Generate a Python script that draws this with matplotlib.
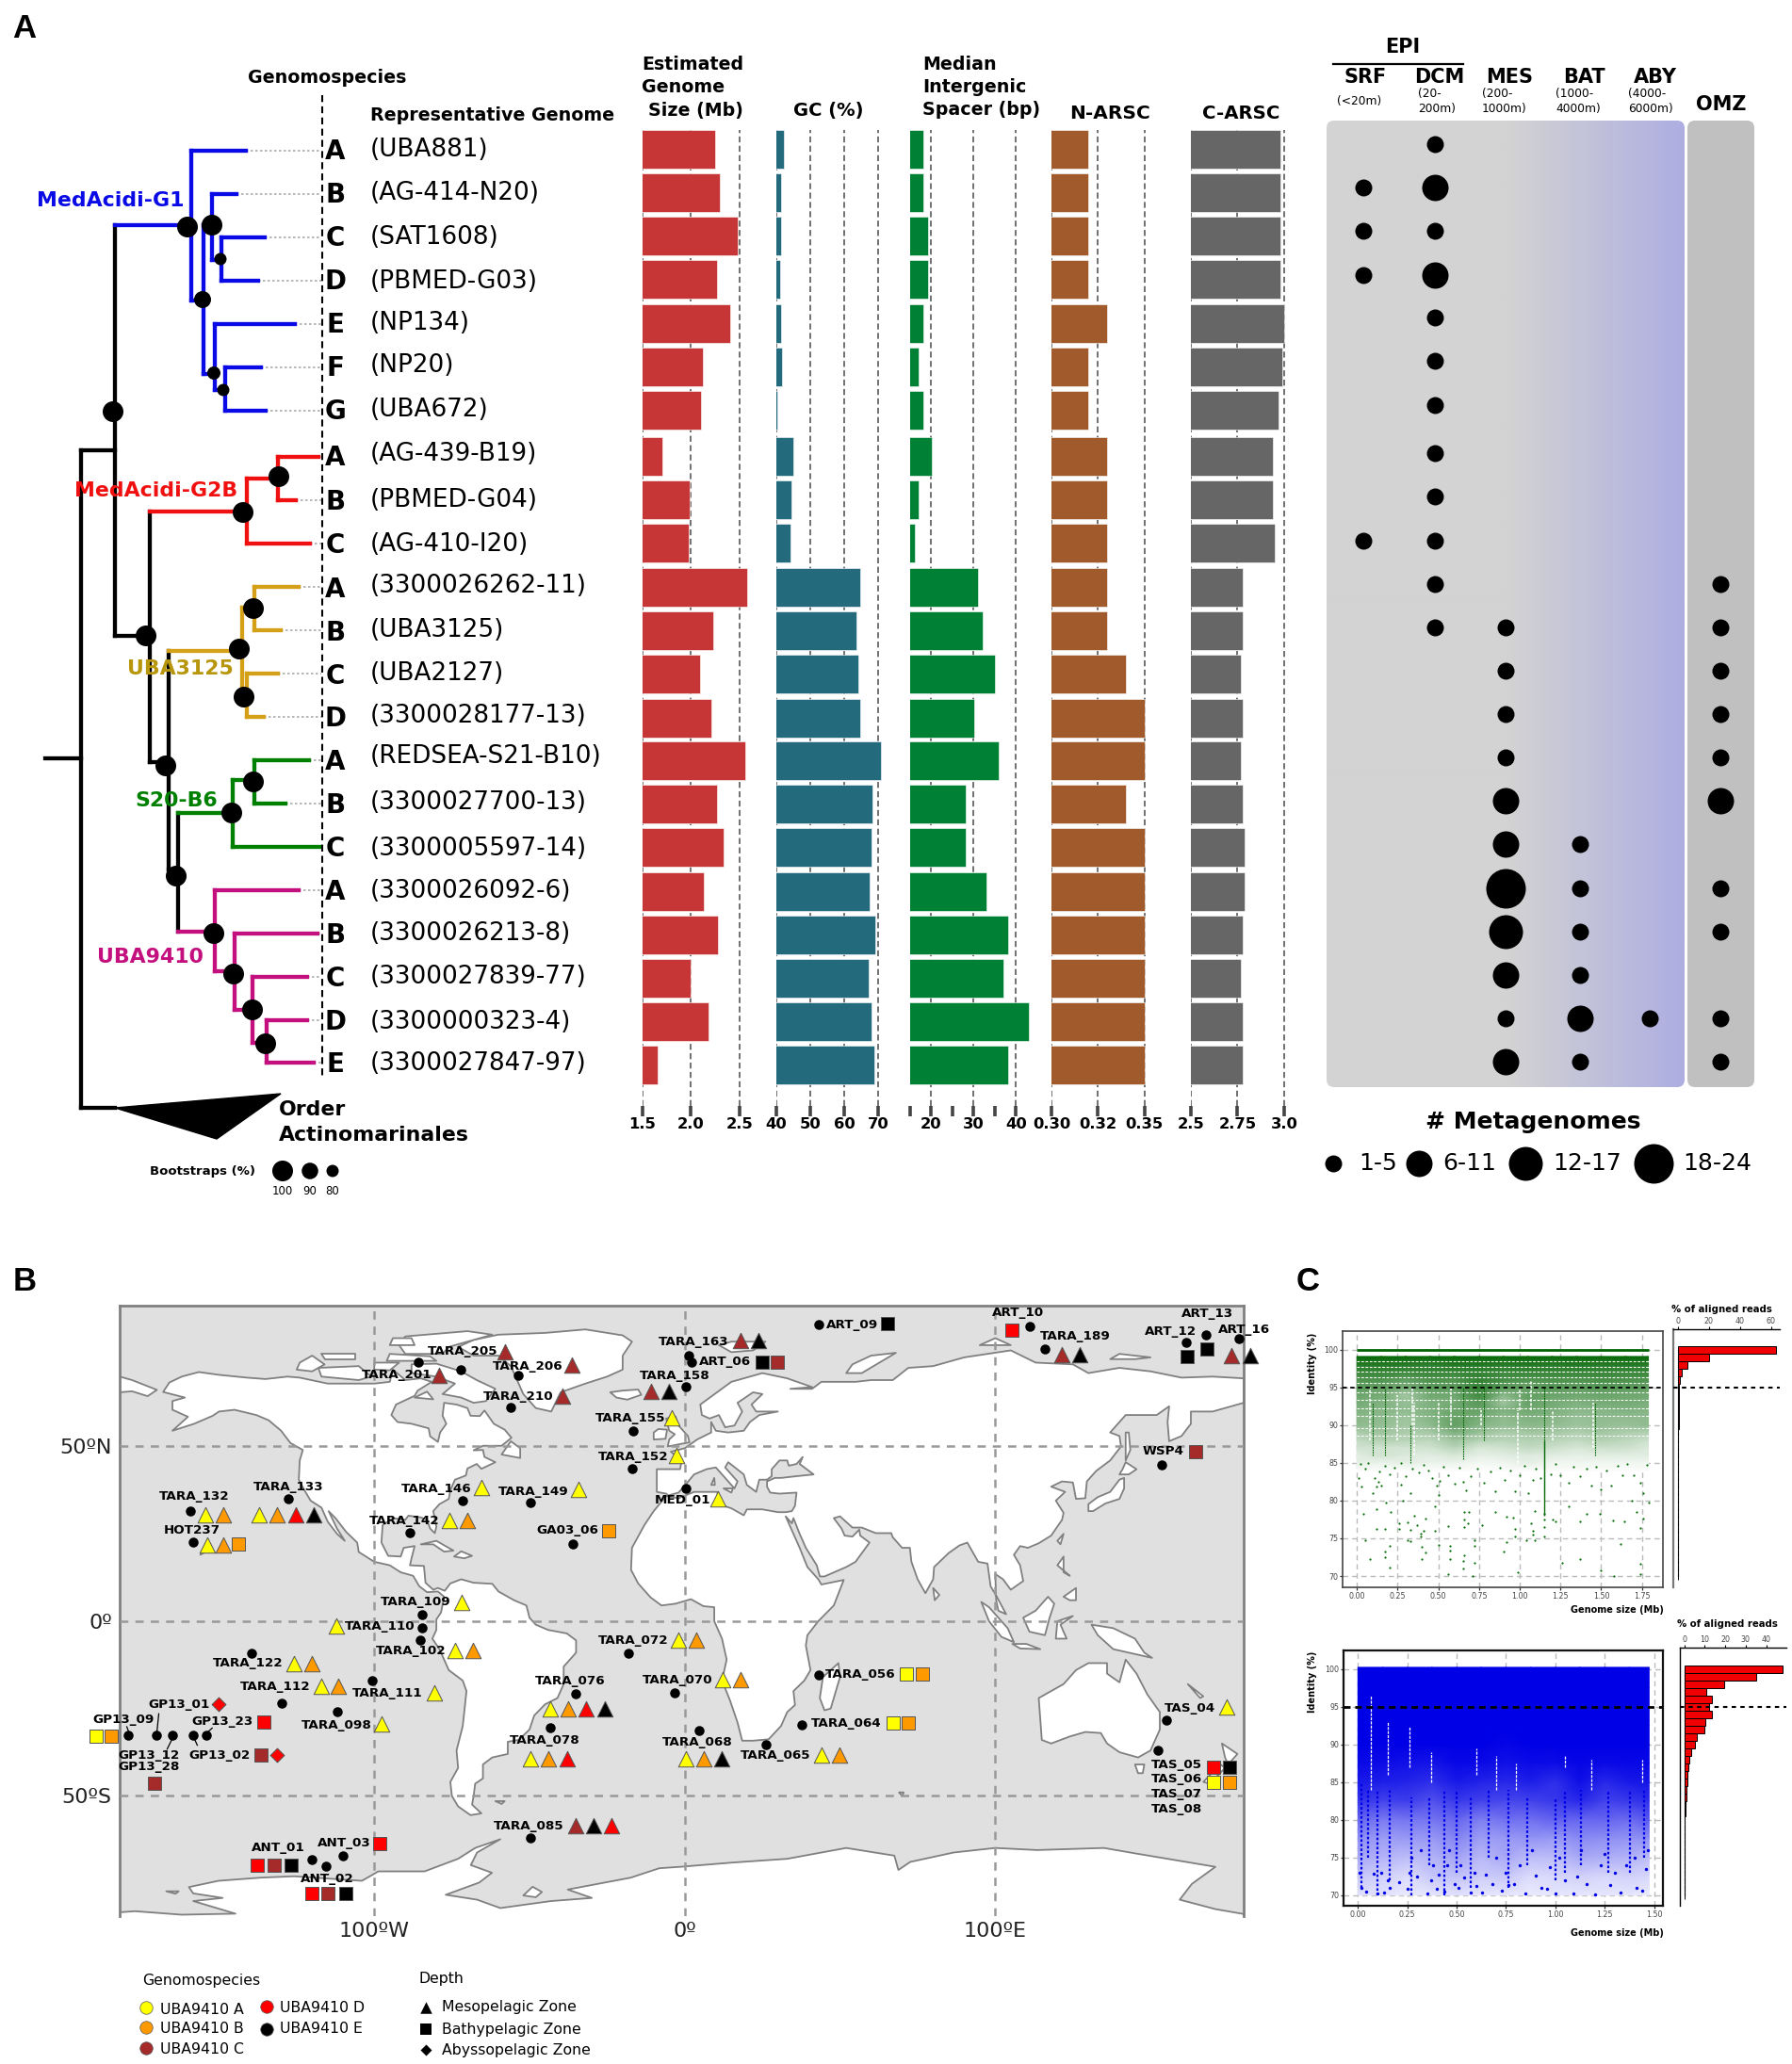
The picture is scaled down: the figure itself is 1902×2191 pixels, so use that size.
import numpy as np
import matplotlib
matplotlib.use("Agg")
import matplotlib.pyplot as plt
from matplotlib.colors import LinearSegmentedColormap
from matplotlib.patches import FancyBboxPatch, Polygon

W, H = 1902, 2191

# ---- panel A data ----
letters = list("ABCDEFG") + list("ABC") + list("ABCD") + list("ABC") + list("ABCDE")
genomes = ["(UBA881)", "(AG-414-N20)", "(SAT1608)", "(PBMED-G03)", "(NP134)", "(NP20)", "(UBA672)",
           "(AG-439-B19)", "(PBMED-G04)", "(AG-410-I20)", "(3300026262-11)", "(UBA3125)", "(UBA2127)",
           "(3300028177-13)", "(REDSEA-S21-B10)", "(3300027700-13)", "(3300005597-14)", "(3300026092-6)",
           "(3300026213-8)", "(3300027839-77)", "(3300000323-4)", "(3300027847-97)"]
letter_y = [161, 207, 253, 299, 345, 391, 437, 486, 533, 579, 626, 672, 718, 763, 809, 855, 901, 947, 993, 1039, 1085, 1130]
genome_y = [159, 205, 252, 299, 343, 388, 435, 482, 531, 578, 622, 669, 715, 760, 803, 852, 901, 946, 991, 1037, 1085, 1129]
bar_y = [158, 204.5, 250.5, 296.5, 343, 389, 435, 484.5, 530.5, 576.5, 623, 669, 715, 762, 807, 853, 899, 946, 992, 1038, 1084, 1130]
bubble_y = [153, 199, 245, 292, 337, 383, 430, 481, 527, 574, 620, 666, 712, 758, 804, 850, 896, 943, 989, 1035, 1081, 1127]

genome_size = [2.25, 2.29, 2.48, 2.26, 2.40, 2.12, 2.10, 1.71, 1.99, 1.98, 2.57, 2.23, 2.09, 2.21, 2.55, 2.26, 2.33, 2.13, 2.27, 2.00, 2.18, 1.66]
gc_content = [42.2, 41.5, 41.5, 41.3, 41.4, 41.7, 40.3, 45.0, 44.6, 44.3, 64.8, 63.5, 64.3, 64.6, 70.9, 68.3, 68.0, 67.4, 69.1, 67.3, 68.0, 68.8]
spacer = [18.2, 18.2, 19.2, 19.2, 18.2, 17.1, 18.2, 20.2, 17.1, 16.1, 31.1, 32.1, 35.1, 30.2, 36.0, 28.1, 28.1, 33.1, 38.2, 37.1, 43.1, 38.2]
n_arsc = [0.32, 0.32, 0.32, 0.32, 0.33, 0.32, 0.32, 0.33, 0.33, 0.33, 0.33, 0.33, 0.34, 0.35, 0.35, 0.34, 0.35, 0.35, 0.35, 0.35, 0.35, 0.35]
c_arsc = [2.98, 2.98, 2.98, 2.98, 3.0, 2.99, 2.97, 2.94, 2.94, 2.95, 2.78, 2.78, 2.77, 2.78, 2.77, 2.78, 2.79, 2.79, 2.78, 2.77, 2.78, 2.78]

# metagenome size class per row, 0 = absent
srf = [0, 1, 1, 1, 0, 0, 0, 0, 0, 1, 0, 0, 0, 0, 0, 0, 0, 0, 0, 0, 0, 0]
dcm = [1, 2, 1, 2, 1, 1, 1, 1, 1, 1, 1, 1, 0, 0, 0, 0, 0, 0, 0, 0, 0, 0]
mes = [0, 0, 0, 0, 0, 0, 0, 0, 0, 0, 0, 1, 1, 1, 1, 2, 2, 4, 3, 2, 1, 2]
bat = [0, 0, 0, 0, 0, 0, 0, 0, 0, 0, 0, 0, 0, 0, 0, 0, 1, 1, 1, 1, 2, 1]
aby = [0, 0, 0, 0, 0, 0, 0, 0, 0, 0, 0, 0, 0, 0, 0, 0, 0, 0, 0, 0, 1, 0]
omz = [0, 0, 0, 0, 0, 0, 0, 0, 0, 0, 1, 1, 1, 1, 1, 2, 0, 1, 1, 0, 1, 1]
size_px = {1: 18, 2: 28, 3: 36, 4: 42}

# tree branches (x0, y0, x1, y1)
black_branches = [(48, 805, 86, 805), (86, 478, 86, 1176), (86, 478, 122, 478), (122, 239, 122, 675),
                  (122, 675, 159, 675), (159, 543, 159, 809), (159, 809, 179, 809), (179, 691, 179, 923),
                  (179, 923, 189, 923), (189, 863, 189, 989), (86, 1176, 122, 1176)]
blue_branches = [(122, 239, 203, 239), (203, 160, 203, 319), (203, 160, 261, 160), (203, 319, 216, 319),
                 (216, 239, 216, 397), (216, 239, 225, 239), (225, 206, 225, 276), (225, 206, 251, 206),
                 (225, 276, 235, 276), (235, 252, 235, 298), (235, 252, 281, 252), (235, 298, 274, 298),
                 (216, 397, 228, 397), (228, 344, 228, 414), (228, 344, 313, 344), (228, 414, 239, 414),
                 (239, 390, 239, 436), (239, 390, 277, 390), (239, 436, 282, 436)]
red_branches = [(159, 543, 262, 543), (262, 508, 262, 577), (262, 577, 329, 577), (262, 508, 295, 508),
                (295, 485, 295, 531), (295, 485, 338, 485), (295, 531, 314, 531)]
gold_branches = [(179, 691, 257, 691), (257, 645, 257, 740), (257, 645, 270, 645), (270, 623, 270, 669),
                 (270, 623, 317, 623), (270, 669, 298, 669), (257, 740, 262, 740), (262, 715, 262, 761),
                 (262, 715, 295, 715), (262, 761, 280, 761)]
green_branches = [(189, 863, 247, 863), (247, 828, 247, 899), (247, 899, 340, 899), (247, 828, 270, 828),
                  (270, 807, 270, 853), (270, 807, 328, 807), (270, 853, 303, 853)]
pink_branches = [(189, 989, 228, 989), (228, 945, 228, 1031), (228, 945, 317, 945), (228, 1031, 249, 1031),
                 (249, 991, 249, 1072), (249, 991, 337, 991), (249, 1072, 268, 1072), (268, 1037, 268, 1107),
                 (268, 1037, 326, 1037), (268, 1107, 283, 1107), (283, 1083, 283, 1128), (283, 1083, 326, 1083),
                 (283, 1128, 333, 1128)]
leaf_end_x = [261, 251, 281, 274, 313, 277, 282, 338, 314, 329, 317, 298, 295, 280, 328, 303, 340, 317, 337, 326, 326, 333]
leaf_end_y = [160, 206, 252, 298, 344, 390, 436, 485, 531, 577, 623, 669, 715, 761, 807, 853, 899, 945, 991, 1037, 1083, 1128]

node_x = [120, 199, 225, 234, 215, 227, 237, 258, 296, 155, 176, 254, 269, 259, 187, 246, 269, 227, 248, 268, 282]
node_y = [437, 241, 239, 275, 318, 396, 414, 544, 506, 675, 813, 689, 646, 740, 930, 863, 830, 991, 1034, 1072, 1108]
node_d = [22, 22, 22, 13, 18, 14, 13, 22, 22, 22, 22, 22, 22, 22, 22, 22, 22, 22, 22, 22, 22]

clade_names = ["MedAcidi-G1", "MedAcidi-G2B", "UBA3125", "S20-B6", "UBA9410"]
clade_x = [117, 166, 191, 187, 159]
clade_y = [213, 521, 710, 850, 1016]
clade_colors = ["#0A0AE6", "#F01010", "#B8960C", "#008000", "#C4107F"]

# ---- panel B data ----
station_names = ["TARA_132", "TARA_133", "HOT237", "TARA_205", "TARA_201", "TARA_206", "TARA_210", "TARA_155", "TARA_152",
                 "TARA_146", "TARA_149", "TARA_142", "GA03_06", "TARA_109", "TARA_110", "TARA_102", "TARA_122", "TARA_112",
                 "TARA_111", "TARA_098", "GP13_01", "GP13_09", "GP13_12", "GP13_28", "GP13_23", "GP13_02", "TARA_076",
                 "TARA_078", "TARA_085", "ANT_03", "ANT_01", "ANT_02", "TARA_163", "ART_06", "TARA_158", "ART_09", "ART_10",
                 "TARA_189", "ART_13", "ART_12", "ART_16", "WSP4", "MED_01", "TARA_072", "TARA_070", "TARA_056", "TARA_064",
                 "TARA_068", "TARA_065", "TAS_04", "TAS_05", "TAS_06", "TAS_07", "TAS_08"]
label_lon = [-158, -127.7, -158.6, -71.6, -92.6, -50.7, -53.7, -17.6, -16.6, -80, -48.6, -90.2, -37.9, -86.5, -98.3, -88.3,
             -140.7, -131.9, -95.7, -112.2, -162.9, -180.9, -172.7, -172.7, -149, -149.8, -37, -45, -50.3, -109.6, -130.9, -115,
             3, 13.1, -3.3, 53.8, 107.3, 125.9, 168.4, 156.4, 180.2, 154.1, -0.6, -16.6, -2.3, 56.6, 52, 4.1, 29.3, 162.8, 158.5,
             158.5, 158.5, 158.5]
label_lat = [35.6, 38.5, 25.9, 77.1, 70.6, 73, 64.4, 58, 47.1, 37.9, 37.1, 28.8, 26, 5.5, -1.4, -8.5, -12.1, -18.7, -20.6, -29.7,
             -24, -28.3, -38.5, -41.8, -28.7, -38.5, -17.2, -34, -58.7, -63.5, -64.8, -73.7, 80, 74.2, 70.3, 84.9, 88.3, 81.5, 88,
             82.9, 83.5, 48.6, 34.6, -5.6, -16.9, -15.3, -29.3, -34.7, -38.5, -24.9, -41.1, -45.3, -49.5, -53.7]
dot_lon = [-159.1, -127.8, -158.2, -85.8, -72.1, -53.7, -56, -16.7, -17, -71.5, -49.8, -88.5, -36, -84.6, -84.7, -85.3, -139.4,
           -129.7, -100.7, -111.8, -170.1, -179.2, -165.1, -158.2, -154.1, -35.2, -43.4, -49.6, -110.2, -120.2, -115.4, 1.3, 2.2,
           0.3, 43.1, 111, 115.9, 168, 161.4, 178.4, 153.6, 0.3, -18.1, -3.3, 43.2, 37.8, 4.6, 26.2, 155, 152.4]
dot_lat = [31.4, 35.1, 22.6, 74.1, 72.1, 70.3, 61.3, 54.4, 43.6, 34.4, 34, 25.4, 22.2, 1.9, -2, -5.4, -9.1, -23.4, -17.1, -25.9,
           -32.6, -32.6, -32.6, -32.6, -32.6, -20.9, -30.4, -62.1, -67.2, -68.2, -70.1, 75.9, 74.2, 67, 84.8, 84.5, 77.8, 81.9,
           79.7, 80.9, 44.7, 37.9, -9.1, -20.6, -15.5, -29.6, -31.2, -35.3, -28.2, -37]
# marker code: genomospecies letter + zone (M meso, B bathy, Y abysso)
mark_lon = [-154.3, -148.6, -137, -131.2, -125.4, -119.4, -153.7, -148.7, -143.7, -57.9, -79, -36.4, -39.4, -4.3, -2.8, -65.6,
            -34.2, -75.8, -70.1, -24.5, -71.9, -112.1, -73.9, -68.2, -125.9, -120.2, -117.2, -111.6, -80.6, -97.6, -150, -189.6,
            -184.6, -170.9, -135.6, -136.5, -131.4, -43.4, -37.6, -31.8, -25.8, -49.6, -43.8, -37.9, -35.2, -29.3, -23.5, -98.4,
            -137.8, -132.3, -126.7, -120.2, -114.8, -109.3, 17.9, 23.7, 24.9, 29.8, -11, -5.2, 65.4, 105.5, 121.4, 127.3, 168.1,
            161.8, 176.2, 182, 164.6, 10.8, -2, 3.7, 12.3, 18.1, 71.4, 76.4, 67.1, 72.1, 0.3, 6.2, 11.9, 44.1, 49.7, 174.5, 170.3,
            175.4, 170.3, 175.5]
mark_lat = [30.5, 30.5, 30.5, 30.5, 30.5, 30.5, 21.8, 21.8, 22, 77.1, 70.4, 73.2, 64.5, 58.2, 47.4, 38.2, 37.6, 28.8, 28.8, 26, 5.4,
            -1.4, -8.5, -8.3, -12.1, -12.1, -18.5, -18.5, -20.5, -29.4, -23.7, -32.8, -32.8, -46.5, -28.8, -38.3, -38.3, -25, -25,
            -25, -25, -39.4, -39.4, -39.4, -58.6, -58.6, -58.6, -63.6, -69.9, -69.9, -69.9, -78, -78, -78, 80.2, 80.2, 74.2, 74.2,
            65.7, 65.7, 85.3, 83.4, 76.2, 76.2, 77.9, 75.8, 76, 76, 48.5, 34.9, -5.4, -5.4, -16.7, -16.7, -15.1, -15.1, -29.1,
            -29.1, -39.5, -39.5, -39.5, -38.2, -38.2, -24.6, -41.7, -41.7, -46, -46]
mark_code = ["AM", "BM", "AM", "BM", "DM", "EM", "AM", "BM", "BB", "CM", "CM", "CM", "CM", "AM", "AM", "AM", "AM", "AM", "BM", "BB",
             "AM", "AM", "AM", "BM", "AM", "BM", "AM", "BM", "AM", "AM", "DY", "AB", "BB", "CB", "DB", "CB", "DY", "AM", "BM", "DM",
             "EM", "AM", "BM", "DM", "CM", "EM", "DM", "DB", "DB", "CB", "EB", "DB", "CB", "EB", "CM", "EM", "EB", "CB", "CM", "EM",
             "EB", "DB", "CM", "EM", "EB", "EB", "CM", "EM", "CB", "AM", "AM", "BM", "AM", "BM", "AB", "BB", "AB", "BB", "AM", "BM",
             "EM", "AM", "BM", "AM", "DB", "EB", "AB", "BB"]
species_colors = {"A": "#FFFF00", "B": "#FF9900", "C": "#A52A2A", "D": "#FF0000", "E": "#000000"}
zone_shapes = {"M": "^", "B": "s", "Y": "D"}
# GP13 leader lines: lon0, lat0, lon1, lat1
leader_lines = [(-169.4, -26.5, -170, -31.7), (-179.7, -30.2, -179.2, -31.4), (-166.7, -36.6, -165.1, -33.7),
                (-157, -35.5, -157.9, -33.7), (-152.2, -30.6, -153.6, -31.7)]

americas = [(-168, 65.6), (-166, 68.3), (-162, 70), (-156.5, 71.3), (-150, 70.5), (-141, 69.7), (-135, 69.3), (-128, 70), (-124, 69.7),
            (-115, 68), (-108, 68), (-100, 68), (-95, 68.5), (-94, 72), (-90, 69), (-85, 69.5), (-81.5, 68.5), (-86, 66), (-87, 64.5),
            (-93, 62), (-94.5, 59), (-92.5, 57), (-88, 56.5), (-82.5, 55.2), (-82, 52.9), (-79.5, 51.3), (-78.8, 54), (-76.8, 56.5),
            (-78, 58.8), (-77.5, 62.5), (-73.5, 62), (-70, 61), (-69, 58.8), (-66, 58.7), (-64.5, 60.3), (-61.5, 56.5), (-58, 54.8),
            (-55.8, 52.5), (-59, 50.2), (-65, 50.2), (-68, 48.9), (-65, 49), (-64.5, 47), (-61, 45.5), (-65.5, 43.6), (-67, 45),
            (-70, 43.7), (-70.5, 41.7), (-74, 40.5), (-75.5, 37.5), (-76, 35), (-79, 33.5), (-81, 31.5), (-80, 27), (-80.5, 25.2),
            (-82, 26.5), (-83, 29), (-85, 29.7), (-89, 30.2), (-90, 29), (-94, 29.5), (-97.3, 27.5), (-97.7, 22.5), (-95.5, 18.7),
            (-91.5, 18.5), (-90.5, 21), (-87, 21.5), (-88, 18), (-88.5, 16), (-84, 15.8), (-83.5, 11), (-81, 9), (-79.5, 9.5),
            (-77.3, 8.7), (-75.5, 10.8), (-72, 12), (-68, 11), (-62, 10.7), (-60, 8.5), (-55, 6), (-51, 4.5), (-50, 1), (-48, -1),
            (-44, -2.5), (-38, -3.5), (-35, -5.5), (-35, -9), (-39, -13), (-39, -18), (-41, -22), (-45, -23.8), (-48.5, -27),
            (-50, -31), (-53.5, -34), (-57, -34.5), (-57, -38), (-62, -39), (-65, -41), (-65, -45), (-67.5, -46.5), (-68, -50),
            (-68.5, -52.5), (-65.5, -55), (-69, -55.5), (-73, -53), (-75, -50), (-75.5, -46), (-73, -42), (-73.5, -37), (-71.5, -30),
            (-70.3, -20), (-71.5, -17), (-76, -14), (-79, -8), (-81.3, -5), (-80, -2.5), (-80, 0.5), (-78.5, 2.5), (-77.5, 7),
            (-79.5, 8.5), (-83, 8.3), (-85.5, 10), (-87.5, 13), (-91.5, 14), (-95, 16), (-100, 17), (-105, 19.8), (-105.5, 22.5),
            (-109, 25.5), (-112.5, 29.5), (-114.7, 31.5), (-112, 26.5), (-109.5, 23), (-112, 25), (-115, 28.5), (-117, 32.5),
            (-120.5, 34.5), (-122.5, 37.5), (-124.3, 40.5), (-124, 46), (-123, 49), (-127, 51), (-130, 54.5), (-134, 57.5), (-138, 59),
            (-145, 60.5), (-150, 60), (-152, 58.8), (-158, 56.5), (-165, 54.5), (-160, 58.5), (-165, 60.5), (-165, 63), (-161, 64)]
afro_eurasia = [(-6, 35.8), (-10, 31.5), (-13, 27.5), (-17, 21), (-17.3, 14.7), (-15, 10.8), (-11, 6.8), (-7.5, 4.5), (-3, 5), (2, 6.3),
                (6, 4.3), (9.5, 4), (9.5, 0), (12, -5), (13.5, -11), (12, -17), (14.5, -22.5), (17, -29), (18.5, -34.2), (22, -34.2),
                (27, -33.8), (31, -30), (33, -26), (35.5, -24), (35, -20), (38.5, -17), (40.5, -14), (39, -7), (39.5, -4), (43, 0),
                (48, 4.5), (51.2, 11.8), (44, 10.5), (43, 12), (39.5, 15.5), (37, 21), (35, 25), (33.5, 28), (32.5, 30), (34.5, 28),
                (35, 29.5), (37, 25), (39, 21), (42.5, 16), (43.5, 12.8), (45, 12.8), (52, 15.5), (55, 17), (59.5, 22.5), (56.5, 24.5),
                (56.2, 26.2), (54, 24.2), (51.5, 24.5), (50.5, 26.5), (48, 29.5), (50, 30), (54, 26.8), (57, 26.8), (61.5, 25.2),
                (66.5, 25.2), (67, 24), (70, 21), (72.5, 21), (73, 17), (75, 12), (77.5, 8), (80, 12), (80.3, 15.5), (85, 19.5),
                (88.5, 21.7), (91, 22.5), (94.5, 17), (97.5, 16.5), (98.5, 10), (100.5, 7), (103.5, 2), (101, 3), (100.3, 6), (100, 13.5),
                (102.5, 12), (105, 9), (109, 11.5), (108, 16), (106, 19), (108, 21.5), (110.5, 21), (114, 22.3), (118, 24.5), (121.5, 29),
                (122, 31), (119.5, 34.5), (122.5, 37), (118, 38.5), (121.5, 40), (125, 39.7), (126, 35), (129, 35.2), (129.5, 40),
                (132.5, 43), (137, 46), (140.5, 50), (140, 53), (137, 54), (142, 59), (152, 59), (156, 61.5), (155.5, 57), (156, 51.5),
                (160, 53), (163, 56.5), (163, 60), (170, 60), (180, 62.5), (180, 69.5), (170, 70), (160, 69.7), (150, 71.5), (140, 72.5),
                (130, 71), (125, 73.5), (113, 74), (105, 77.5), (90, 75.5), (80, 73), (72, 72.5), (67, 69), (60, 69), (55, 68.5),
                (44, 68.5), (41, 66.5), (34, 66.5), (41, 67), (33, 69.5), (25, 71), (15, 68.5), (5, 62), (5.5, 59), (8, 58), (11, 59),
                (13, 55.5), (16, 56), (18.5, 60), (17, 62.5), (22, 65.5), (25, 65), (21.5, 62), (23, 60), (30, 60), (24, 59), (21, 57),
                (19, 54.5), (14, 54), (10, 54.5), (8.5, 57), (8.5, 54), (4, 52), (0, 49.5), (-4.5, 48.5), (-1, 46), (-1.5, 43.5),
                (-9, 43.5), (-9, 37), (-6, 36.5), (-5.3, 36), (-2, 36.8), (0, 38.8), (3, 42), (7, 43.5), (10, 44), (12.5, 41.5), (16, 38),
                (17, 40), (13, 44), (14, 45.5), (19, 42), (20, 39), (23, 37), (24, 40.5), (26.5, 40.5), (28, 41.5), (28, 43.5), (30.5, 46),
                (33, 46), (33.5, 44.5), (36, 45), (38, 47), (37, 45), (41.5, 42), (36, 41.5), (31, 41), (29, 41), (26.5, 40), (26.5, 38.5),
                (27.5, 36.8), (30.5, 36.5), (36, 36.8), (35.5, 33), (34.5, 31.5), (32.5, 31.2), (30, 31.2), (25, 32), (20, 32), (19, 30.3),
                (15, 32.3), (11, 33.5), (10.5, 37), (3, 37), (-2, 35.2)]
antarctica = [(-182, -83.3), (-177, -83), (-162, -84), (-144.7, -83.7), (-158.3, -80.1), (-148.8, -79.2), (-158.3, -77.9), (-159.7, -76.1),
              (-150.2, -74.3), (-136.7, -73.4), (-125.8, -73), (-104, -74.3), (-101.4, -73), (-98.7, -71.6), (-83.8, -71.6), (-73, -68),
              (-67.5, -64.9), (-59.4, -62.4), (-66.9, -66.2), (-68.9, -69.8), (-62.1, -72), (-66.2, -74.8), (-77, -78.3), (-66.9, -79.7),
              (-59.4, -82.1), (-43.1, -80.1), (-29.9, -79.2), (-37.7, -76.8), (-17.4, -73.4), (-8.2, -70.7), (-1.5, -70.3), (15, -69.1),
              (33, -68), (52, -64.9), (67.5, -67.1), (68.8, -71.2), (72.6, -68.9), (86.6, -66.2), (100, -64.9), (113.5, -65.5), (135, -64.9),
              (145.4, -66.5), (170.9, -70.3), (163.3, -75.2), (159.4, -79.7), (170.9, -82.4), (180, -83.8), (180, -90), (-182, -90)]
greenland = [(-73, 78.5), (-68, 80.5), (-60, 82), (-45, 82.5), (-32, 83.5), (-20, 81.8), (-17, 80), (-20, 76), (-20, 72), (-25, 70), (-32, 68),
             (-40, 65.5), (-43, 60), (-48, 61), (-52, 65), (-54, 69), (-56, 73), (-60, 76), (-68, 76)]
australia = [(114, -22), (122, -18), (126, -14), (130, -12), (136, -12), (136, -15), (140, -17.5), (142, -11), (145.5, -15), (149, -21), (153, -26),
             (153, -31), (150, -37), (146, -39), (140, -37.5), (136, -35), (134, -32), (129, -31.7), (124, -33), (118, -35), (115, -34), (114.5, -28)]
islands = [
    [(-61, 66.5), (-64, 63), (-68, 62.5), (-72, 64), (-78, 65), (-74, 68), (-80, 70), (-88, 71), (-88, 73.5), (-80, 73.7), (-72, 71.5), (-67, 69)],
    [(-117, 70), (-105, 69), (-101, 70), (-105, 73), (-118, 72.5)], [(-125, 72), (-120, 71.5), (-116, 73.5), (-120, 76), (-124, 74)],
    [(-90, 76.5), (-78, 76.5), (-76, 78.5), (-62, 82), (-70, 83), (-90, 81.5), (-92, 79)], [(-96, 74.5), (-80, 74.5), (-82, 75.8), (-95, 76.5)],
    [(-100, 72), (-95, 71.8), (-92, 74), (-100, 74)], [(-116, 75), (-106, 75), (-106, 76.5), (-117, 76.5)], [(-87, 64), (-81, 63.5), (-83, 65.7)],
    [(-59, 47.7), (-53, 46.7), (-53, 49.5), (-56, 51.5)], [(-95, 79), (-87, 79), (-88, 81), (-94, 81)],
    [(-85, 22), (-80, 23), (-74.5, 20.2), (-77.5, 19.9), (-81, 22)], [(-74.3, 18.5), (-72, 20), (-68.5, 18.7), (-71, 18)],
    [(-5.5, 50), (1.5, 51.2), (1, 53), (-2, 56), (-3, 58.6), (-6, 58), (-5, 54.5), (-3.2, 53.5), (-5, 52)], [(-10, 52), (-6.2, 52.2), (-5.7, 54.8), (-8.5, 55), (-10, 54)],
    [(-24, 65.5), (-22, 64), (-18.5, 63.4), (-14, 64.8), (-15, 66.3), (-20, 66)], [(11, 79), (15, 77), (22, 77.5), (26, 80), (15, 80)],
    [(52, 71), (57, 71), (68, 76.8), (60, 76), (54, 73.5)], [(95, 79), (105, 79), (100, 81)], [(137, 75), (145, 75), (150, 75.5), (140, 76.5)],
    [(142, 46), (143.5, 49), (143, 54), (142, 54), (142, 50)], [(130, 31.5), (131.5, 31.5), (135.5, 33.7), (140, 35), (141.5, 38), (141.5, 41), (140, 40.5), (137, 37), (133, 35.5), (130, 33.5)],
    [(140, 42), (143, 42), (145.5, 43.5), (142, 45.5), (141, 43.5)], [(80, 9.5), (82, 7.5), (80.5, 6)], [(43.5, -22), (44.5, -16), (49.5, -12), (50, -16), (47, -25), (45, -25.5)],
    [(95.5, 5.5), (98, 4), (104, -2), (106, -6), (102, -4.5), (98, 0)], [(105.5, -6.5), (110, -6.5), (114.5, -8), (108, -7.8)], [(109, 1), (113, 3), (117, 7), (119, 5), (117.5, 1), (116, -4), (111, -3)],
    [(119.5, -5), (120, 0), (125, 1.5), (121, -1), (123, -5)], [(120, 16), (122, 18.5), (122, 14), (124, 13)], [(122, 7), (126, 9.5), (126, 6), (124, 6)],
    [(131, -1), (138, -2), (145, -5), (148, -9), (150.5, -10.5), (143, -9), (138, -8), (133, -4)], [(145, -41), (148, -41), (147.5, -43.5), (146, -43.5)],
    [(173, -35), (178, -38), (175, -41), (174, -39)], [(172.5, -41), (174, -42), (169, -46.5), (167, -46)], [(69, -49), (70.5, -49), (70, -50)],
    [(-61, -51.5), (-58, -51.5), (-59, -52.3)], [(120, 23), (122, 25), (121, 22)], [(8.5, 39), (9.5, 41), (9.7, 39)], [(12.5, 38), (15.5, 38), (15, 36.8)],
    [(-182, 70), (-178, 69), (-170, 66.2), (-173, 64.4), (-178, 65.8), (-182, 65.5)], [(-52, -78.5), (-49, -76), (-46, -77.5), (-48, -79)],
    [(-167, -77.3), (-163, -77.3), (-164, -78)], [(162, -18), (167, -21.5), (166, -22)], [(-156, 19), (-155, 19.5), (-155.5, 20.2)],
]

# ---- panel C data ----
identity_bins = list(range(100, 69, -1))
green_hist = [63, 20, 6, 2.3, 1.2, 0.9, 0.8, 0.7, 0.6, 0.5, 0.4, 0.3, 0.2, 0.15, 0.1, 0.05, 0.05, 0.03, 0.03, 0.02, 0.02, 0.02, 0.01, 0.01,
              0.01, 0.01, 0.01, 0.01, 0.01, 0.01, 0.01]
blue_hist = [48, 35, 19.5, 10.5, 13.3, 12.3, 13.5, 10.3, 10, 6.3, 5.2, 3.3, 2.4, 2, 1.7, 1.4, 1.2, 0.9, 0.6, 0.4, 0.3, 0.3, 0.2, 0.2, 0.15,
             0.1, 0.1, 0.1, 0.05, 0.05, 0.05]

# read coverage of the dense part of the scatter (share of the area that is coloured)
green_cols = [0, 0.15, 0.3, 0.45, 0.6, 0.75, 0.9, 1.05, 1.2, 1.35, 1.5, 1.65, 1.79]
green_rows = [99.1, 98, 97, 96, 95, 94, 93, 92, 91, 90, 89, 88, 87, 86, 85, 84]
green_cover = [
    [.98, .98, .98, .98, .98, .98, .98, .98, .98, .98, .98, .98, .98],
    [.84, .86, .84, .82, .86, .86, .84, .86, .84, .86, .84, .86, .84],
    [.76, .78, .76, .78, .78, .80, .76, .78, .78, .78, .78, .76, .78],
    [.68, .70, .62, .70, .68, .80, .72, .68, .70, .68, .72, .70, .68],
    [.64, .60, .52, .64, .64, .80, .64, .58, .66, .62, .66, .64, .60],
    [.58, .54, .36, .56, .56, .76, .46, .62, .58, .56, .58, .56, .56],
    [.54, .50, .40, .50, .54, .66, .36, .60, .54, .50, .54, .54, .52],
    [.50, .48, .44, .50, .58, .60, .50, .56, .52, .46, .48, .50, .48],
    [.46, .44, .38, .48, .60, .54, .44, .50, .48, .40, .44, .44, .44],
    [.44, .42, .36, .44, .62, .48, .42, .46, .44, .38, .42, .40, .44],
    [.32, .38, .32, .34, .50, .40, .32, .36, .36, .30, .36, .32, .30],
    [.24, .30, .28, .26, .38, .30, .28, .30, .28, .24, .30, .26, .20],
    [.18, .18, .18, .18, .28, .16, .18, .24, .20, .16, .20, .20, .14],
    [.12, .18, .14, .12, .16, .10, .12, .14, .12, .10, .12, .12, .12],
    [.10, .08, .10, .08, .08, .05, .06, .10, .06, .06, .06, .06, .06],
    [.02, .02, .02, .02, .02, .01, .02, .02, .02, .02, .02, .02, .02],
]
green_x = [0.01, 0.03, 0.04, 0.05, 0.08, 0.10, 0.12, 0.12, 0.12, 0.13, 0.15, 0.17, 0.17, 0.17, 0.18, 0.2, 0.2, 0.21, 0.26, 0.26, 0.27, 0.28, 0.31, 0.31,
           0.33, 0.33, 0.33, 0.35, 0.37, 0.39, 0.39, 0.40, 0.40, 0.41, 0.42, 0.42, 0.48, 0.50, 0.48, 0.50, 0.51, 0.56, 0.56, 0.57, 0.57, 0.57, 0.65, 0.65,
           0.66, 0.66, 0.66, 0.66, 0.69, 0.68, 0.71, 0.72, 0.72, 0.72, 0.77, 0.85, 0.90, 0.92, 0.92, 0.96, 0.97, 0.97, 0.99, 1.04, 1.08, 1.08, 1.09, 1.07,
           1.09, 1.15, 1.15, 1.15, 1.15, 1.2, 1.22, 1.26, 1.3, 1.37, 1.37, 1.41, 1.5, 1.49, 1.57, 1.58, 1.62, 1.64, 1.69, 1.72, 1.74, 1.74, 1.74, 1.76, 1.79,
           0.02, 0.05, 0.07, 0.11, 0.14, 0.17, 0.2, 0.23, 0.27, 0.3, 0.34, 0.38, 0.41, 0.44, 0.46, 0.49, 0.53, 0.56, 0.6, 0.63, 0.65, 0.67, 0.7, 0.74, 0.78,
           0.82, 0.85, 0.88, 0.91, 0.94, 0.97, 1.0, 1.03, 1.05, 1.08, 1.1, 1.13, 1.19, 1.22, 1.25, 1.3, 1.33, 1.37, 1.41, 1.44, 1.47, 1.5, 1.53, 1.56, 1.6,
           1.63, 1.66, 1.7, 1.74, 1.76, 1.78]
green_y = [83, 81.8, 78.2, 74.7, 72.2, 81, 76.2, 78.9, 81.8, 82.5, 82, 76.3, 73.2, 72.5, 79.7, 74, 71.1, 78.5, 77, 76.2, 82.1, 80, 77.1, 74.7, 74.6, 76.1,
           81, 78, 76.8, 75.6, 75.3, 73.9, 72.2, 76, 77.6, 73.1, 76, 74.1, 79.2, 80.8, 82.6, 76.6, 70.2, 74, 73.4, 72.3, 72, 71, 72.7, 76.5, 77.5, 78.5, 78.5,
           77, 70, 71.8, 74.7, 74, 76.8, 78.5, 73.3, 74.5, 77.9, 77.8, 76.2, 75.2, 70.5, 74.7, 76, 75.5, 74.7, 77, 78.6, 75.2, 76.5, 77.5, 78.2, 77.5, 77.3,
           71.7, 79.2, 77.2, 72.3, 78.2, 70.7, 78.2, 77.4, 70, 74.3, 77.2, 80, 78.5, 70.3, 71.6, 76.4, 77.6, 79.7,
           84.8, 84.2, 85, 83, 83.8, 84.6, 83.5, 84.3, 85, 83.2, 84.2, 83.7, 84.7, 84, 83, 82, 84.5, 83.3, 82.2, 84.3, 82.5, 81.3, 83.2, 84.2, 82.4, 83.8,
           81.2, 84.4, 82.7, 84, 81.2, 83.3, 84.6, 81, 82.7, 84.2, 83, 83.5, 84.8, 83.4, 82.3, 84.5, 83.2, 84.2, 82, 84.5, 81.5, 84, 82, 84.6, 83.4, 84.8,
           83.3, 82.4, 81, 84.7]
# white rows and columns that show through the green cloud, dark columns of reads
green_band_y = [98.45, 97.7, 97.05, 96.35, 95.6, 94.3, 93.4, 92.2, 91.2, 89.6, 88.6]
green_gap_x = [0.08, 0.25, 0.34, 0.35, 0.5, 0.58, 0.76, 1.0, 0.99, 1.07, 1.2, 1.45]
green_gap_low = [88, 88, 90, 86, 88, 90, 90, 92, 85, 92, 88, 87]
green_gap_high = [95, 94, 95, 93, 93, 95, 92, 95, 92, 96, 92, 93]
green_col_x = [0.1, 0.17, 0.65, 0.78, 1.15, 0.33, 1.46]
green_col_low = [86, 86, 85.5, 88, 81, 85, 86]
green_col_high = [93, 95, 95, 95, 95, 90, 93]

blue_cols = [0, 0.125, 0.25, 0.375, 0.5, 0.625, 0.75, 0.875, 1.0, 1.125, 1.25, 1.375, 1.475]
blue_rows = [100.2, 97.5, 95, 92.5, 90, 87.5, 85, 82.5, 80, 77.5, 75, 72.5, 70]
blue_cover = [
    [1, 1, 1, 1, 1, 1, 1, 1, 1, 1, 1, 1, 1],
    [1, 1, 1, 1, 1, 1, 1, 1, 1, 1, 1, 1, 1],
    [1, 1, 1, 1, 1, 1, 1, 1, 1, 1, 1, 1, 1],
    [1, 1, 1, 1, 1, 1, 1, 1, 1, 1, 1, 1, 1],
    [1, 1, 1, 1, 1, 1, .98, 1, 1, 1, 1, 1, 1],
    [.96, .95, .93, .92, .97, .96, .93, .96, .95, .98, .96, .97, .97],
    [.90, .88, .86, .82, .90, .86, .84, .88, .82, .94, .84, .90, .92],
    [.80, .74, .76, .68, .78, .74, .72, .74, .78, .84, .74, .78, .82],
    [.60, .52, .54, .54, .60, .50, .56, .56, .62, .60, .60, .58, .66],
    [.44, .38, .40, .40, .48, .38, .40, .42, .40, .46, .44, .42, .44],
    [.34, .30, .26, .30, .36, .28, .34, .26, .26, .34, .32, .30, .26],
    [.22, .18, .14, .22, .24, .20, .22, .14, .16, .18, .16, .18, .16],
    [.12, .12, .08, .10, .12, .10, .10, .08, .10, .10, .10, .10, .08],
]
blue_x = [0.01, 0.02, 0.04, 0.08, 0.1, 0.12, 0.13, 0.15, 0.16, 0.21, 0.25, 0.26, 0.27, 0.3, 0.32, 0.35, 0.37, 0.38, 0.4, 0.41, 0.44, 0.45, 0.46, 0.49, 0.51,
          0.52, 0.54, 0.57, 0.59, 0.6, 0.63, 0.65, 0.68, 0.7, 0.73, 0.75, 0.76, 0.79, 0.82, 0.85, 0.88, 0.9, 0.93, 0.96, 0.97, 1.0, 1.02, 1.05, 1.09, 1.11, 1.13,
          1.16, 1.2, 1.23, 1.25, 1.28, 1.3, 1.33, 1.36, 1.4, 1.41, 1.44, 1.46, 1.47]
blue_y = [73, 71, 70.5, 72.8, 70.2, 73, 70.3, 72, 71, 71.7, 70.8, 73, 75, 72.5, 76, 70.2, 72, 74, 70.8, 72.7, 70.5, 74, 76, 71.5, 71, 74, 72.3, 70.4, 73, 71.2,
          70.3, 72.7, 71.5, 75, 70.6, 73, 71.4, 71.5, 74, 70.2, 76, 72.6, 71, 70.8, 73.7, 70.2, 75, 72, 70.2, 72.5, 76, 71.5, 70.1, 74, 75.5, 71.3, 73, 70.3, 74,
          75, 71, 70.6, 73.5, 76]
blue_gap_x = [0.065, 0.15, 0.26, 0.37, 0.6, 0.7, 0.8, 1.05, 1.18, 1.44]
blue_gap_low = [84, 86, 87, 85, 86, 84, 84, 87, 84, 85]
blue_gap_high = [96.5, 93, 92.3, 89, 89.5, 88.5, 87.5, 88.5, 88, 88]
blue_col_x = [0.02, 0.05, 0.1, 0.16, 0.27, 0.36, 0.44, 0.5, 0.57, 0.66, 0.76, 0.86, 1.0, 1.05, 1.13, 1.27, 1.38, 1.45]
blue_col_low = [71, 75, 70, 72, 70, 74, 70, 73, 71, 75, 71, 74, 72, 73, 74, 73, 73, 75]
blue_col_high = [85, 84, 84, 84, 83, 83, 84, 84, 83, 84, 84, 83, 83, 84, 84, 84, 84, 84]


def px_axes(fig, left, top, right, bottom):
    return fig.add_axes([left / W, 1 - bottom / H, (right - left) / W, (bottom - top) / H])


def disc(d):
    return (d * 0.72) ** 2


fig = plt.figure(figsize=(W / 100, H / 100), dpi=100, facecolor="white")
plt.rcParams["font.family"] = "DejaVu Sans"

ov = fig.add_axes([0, 0, 1, 1], zorder=5)
ov.patch.set_alpha(0)
ov.set_xlim(0, W)
ov.set_ylim(H, 0)
ov.axis("off")


def txt(x, y, s, size=12, weight="normal", ha="center", color="black", **kw):
    ov.text(x, y, s, fontsize=size, fontweight=weight, ha=ha, va="center", color=color, **kw)


# panel letters
for lab, lx, ly in [("A", 26, 30), ("B", 26, 1360), ("C", 1388, 1361)]:
    txt(lx, ly, lab, size=25, weight="bold", family="Liberation Sans")

# tree
for branches, col in [(black_branches, "black"), (blue_branches, clade_colors[0]), (red_branches, clade_colors[1]),
                      (gold_branches, "#D4A017"), (green_branches, clade_colors[3]), (pink_branches, clade_colors[4])]:
    for x0, y0, x1, y1 in branches:
        ov.plot([x0, x1], [y0, y1], color=col, lw=3.1, solid_capstyle="projecting", zorder=2)
for ex, ey in zip(leaf_end_x, leaf_end_y):
    ov.plot([ex, 341], [ey, ey], color="#AAAAAA", lw=1.2, ls=(0, (1.5, 1.5)), zorder=1)
ov.plot([342, 342], [101, 1142], color="black", lw=1.5, ls=(0, (3.5, 2.2)), zorder=3)
ov.scatter(node_x, node_y, s=[disc(d) for d in node_d], color="black", linewidths=0, zorder=4)
ov.add_patch(Polygon([(122, 1176), (298, 1161), (230, 1209)], closed=True, color="black", zorder=3))

for name, cx, cy, col in zip(clade_names, clade_x, clade_y, clade_colors):
    txt(cx, cy, name, size=15.8, weight="bold", color=col, zorder=6)
for let, ly in zip(letters, letter_y):
    txt(356, ly, let, size=20, weight="bold", zorder=6)
for gen, gy in zip(genomes, genome_y):
    txt(393, gy, gen, size=18.9, ha="left", zorder=6)
txt(347, 83, "Genomospecies", size=13.7, weight="bold")
txt(393, 122, "Representative Genome", size=13.7, weight="bold", ha="left")
txt(296, 1178, "Order", size=15.8, weight="bold", ha="left")
txt(296, 1205, "Actinomarinales", size=15.8, weight="bold", ha="left")
txt(215, 1243, "Bootstraps (%)", size=9.5, weight="bold")
ov.scatter([300, 329, 353], [1243, 1243, 1243], s=[disc(22), disc(17.5), disc(13)], color="black", linewidths=0)
for bx, bl in zip([300, 329, 353], ["100", "90", "80"]):
    txt(bx, 1265, bl, size=8.5)

# bar panels: values, colour, px left, px right, axis start, axis end, ticks, tick labels
bar_panels = [
    (genome_size, "#C73636", 681.5, 800, 1.5, 2.64, [1.5, 2.0, 2.5], ["1.5", "2.0", "2.5"]),
    (gc_content, "#236A7D", 823.8, 940, 40, 72.2, [40, 50, 60, 70], ["40", "50", "60", "70"]),
    (spacer, "#008035", 965.7, 1100, 15, 44.8, [20, 30, 40], ["20", "30", "40"]),
    (n_arsc, "#A15A2C", 1116, 1222, 0.30, 0.3537, [0.30, 0.325, 0.35], ["0.30", "0.32", "0.35"]),
    (c_arsc, "#666666", 1264, 1368, 2.5, 3.026, [2.5, 2.75, 3.0], ["2.5", "2.75", "3.0"]),
]
for vals, col, pl, pr, x0, x1, ticks, tlabs in bar_panels:
    ax = px_axes(fig, pl, 138, pr, 1174)
    ax.patch.set_alpha(0)
    ax.barh(bar_y, vals, height=41, color=col, edgecolor="white", linewidth=0.4, zorder=3)
    ax.set_xlim(x0, x1)
    ax.set_ylim(1174, 138)
    ax.set_yticks([])
    for s in ax.spines.values():
        s.set_visible(False)
    ax.set_xticks(ticks)
    ax.set_xticklabels(tlabs, fontsize=11.8, fontweight="bold")
    ax.tick_params(axis="x", length=8, width=2.6, color="#444444", pad=1)
    ax.grid(axis="x", color="#666666", lw=1.3, ls=(0, (3.5, 2)), zorder=1)
    ax.set_axisbelow(True)
    if vals is spacer:
        ax.set_xticks([15, 25, 35], minor=True)
        ax.tick_params(axis="x", which="minor", length=8, width=2.6, color="#444444")

txt(681.5, 69, "Estimated", size=13.7, weight="bold", ha="left")
txt(681.5, 93, "Genome", size=13.7, weight="bold", ha="left")
txt(687.5, 117, "Size (Mb)", size=13.7, weight="bold", ha="left")
txt(879, 117, "GC (%)", size=14, weight="bold")
txt(979, 69, "Median", size=13.7, weight="bold", ha="left")
txt(979, 93, "Intergenic", size=13.7, weight="bold", ha="left")
txt(979, 117, "Spacer (bp)", size=13.7, weight="bold", ha="left")
txt(1178, 120, "N-ARSC", size=14.5, weight="bold")
txt(1317, 120, "C-ARSC", size=14.2, weight="bold")

# depth panels
bg = px_axes(fig, 1408, 128, 1788, 1154)
bg.set_xlim(1408, 1788)
bg.set_ylim(1154, 128)
bg.axis("off")
ramp_x = np.linspace(1408, 1788, 190)
ramp = np.zeros((1, 190, 3))
for i, (c0, c1) in enumerate(zip((211, 211, 211), (174, 174, 226))):
    ramp[0, :, i] = np.interp(ramp_x, [1408, 1600, 1788], [c0, c0, c1]) / 255
im = bg.imshow(ramp, extent=(1408, 1788, 1154, 128), aspect="auto", interpolation="bilinear")
clip = FancyBboxPatch((1414, 134), 368, 1014, boxstyle="round,pad=6,rounding_size=8", fc="none", ec="none", transform=bg.transData)
bg.add_patch(clip)
im.set_clip_path(clip)
bg.set_xlim(1408, 1788)
bg.set_ylim(1154, 128)
ov.add_patch(FancyBboxPatch((1797, 134), 59, 1014, boxstyle="round,pad=6,rounding_size=8", fc="#C0C0C0", ec="none", zorder=0))

for col_x, classes in [(1447, srf), (1523, dcm), (1598, mes), (1677, bat), (1751, aby), (1826, omz)]:
    for by, c in zip(bubble_y, classes):
        if c:
            ov.scatter([col_x], [by], s=disc(size_px[c]), color="black", linewidths=0, zorder=4)

txt(1489, 50, "EPI", size=15, weight="bold")
ov.plot([1415, 1553], [68, 68], color="black", lw=1.6)
for lab, lx in zip(["SRF", "DCM", "MES", "BAT", "ABY"], [1449, 1528, 1602, 1681, 1757]):
    txt(lx, 82, lab, size=15, weight="bold")
txt(1827, 111, "OMZ", size=15, weight="bold")
txt(1443, 108, "(<20m)", size=8.8)
for lx, l1, l2 in [(1505, "(20-", "200m)"), (1573, "(200-", "1000m)"), (1651, "(1000-", "4000m)"), (1728, "(4000-", "6000m)")]:
    txt(lx, 100, l1, size=8.8, ha="left")
    txt(lx, 115, l2, size=8.8, ha="left")
txt(1627, 1191, "# Metagenomes", size=18, weight="bold")
for lx, d, tx, lab in [(1415, 18, 1442, "1-5"), (1506, 28, 1531, "6-11"), (1619, 36, 1648, "12-17"), (1755, 42, 1786, "18-24")]:
    ov.scatter([lx], [1235], s=disc(d), color="black", linewidths=0)
    txt(tx, 1235, lab, size=18, ha="left")

# map
mp = px_axes(fig, 127, 1386, 1320, 2034)
mp.set_facecolor("#E0E0E0")
mp.set_xlim(-182, 180)
mp.set_ylim(-84.4, 90.3)
for poly in [americas, afro_eurasia, antarctica, greenland, australia] + islands:
    mp.add_patch(Polygon(poly, closed=True, fc="white", ec="#808080", lw=1.3, joinstyle="round", zorder=2))
for s in ["top", "left", "right"]:
    mp.spines[s].set_color("#808080")
    mp.spines[s].set_linewidth(2)
mp.spines["bottom"].set_visible(False)
mp.set_xticks([-100, 0, 100])
mp.set_xticklabels(["100ºW", "0º", "100ºE"], fontsize=16, color="#222222")
mp.set_yticks([50, 0, -50])
mp.set_yticklabels(["50ºN", "0º", "50ºS"], fontsize=16, color="#222222")
mp.tick_params(length=0, pad=6)
mp.tick_params(axis="x", pad=4)
mp.grid(color="#999999", lw=1.8, ls=(0, (3.5, 3)), zorder=3)
mp.set_axisbelow(False)
for line in mp.get_xgridlines() + mp.get_ygridlines():
    line.set_zorder(3)
for x0, y0, x1, y1 in leader_lines:
    mp.plot([x0, x1], [y0, y1], color="black", lw=0.9, zorder=5)
mp.scatter(dot_lon, dot_lat, s=disc(10.5), color="black", linewidths=0, zorder=6, clip_on=False)
for lon, lat, code in zip(mark_lon, mark_lat, mark_code):
    sp, zone = code[0], code[1]
    size = {"M": 16.5, "B": 14.5, "Y": 10.5}[zone]
    mp.scatter([lon], [lat], s=disc(size), marker=zone_shapes[zone], color=species_colors[sp], edgecolors="#555555",
               linewidths=0.7, zorder=6, clip_on=False)
for name, lx, ly in zip(station_names, label_lon, label_lat):
    mp.text(lx, ly, name, fontsize=9.7, fontweight="bold", ha="center", va="center", zorder=7, clip_on=False)

# map legend
txt(151, 2103, "Genomospecies", size=11.3, ha="left")
txt(445, 2101, "Depth", size=11.3, ha="left")
legend_species = ["UBA9410 A", "UBA9410 B", "UBA9410 C", "UBA9410 D", "UBA9410 E"]
legend_dot_x = [155, 155, 155, 282.6, 282.6]
legend_dot_y = [2131, 2152, 2174, 2130, 2154]
legend_txt_x = [170, 170, 170, 297, 297]
legend_txt_y = [2133, 2153, 2176, 2131, 2154]
for lab, dx, dy, tx, ty, sp in zip(legend_species, legend_dot_x, legend_dot_y, legend_txt_x, legend_txt_y, "ABCDE"):
    ov.scatter([dx], [dy], s=disc(13.5), color=species_colors[sp], edgecolors="#555555", linewidths=0.5)
    txt(tx, ty, lab, size=11.3, ha="left")
for lab, my, mk, d in [("Mesopelagic Zone", 2131, "^", 12.5), ("Bathypelagic Zone", 2154, "s", 12), ("Abyssopelagic Zone", 2176, "D", 8.5)]:
    ov.scatter([452], [my], s=disc(d), marker=mk, color="black", linewidths=0)
    txt(469, my, lab, size=11.3, ha="left")

# panel C
green_cmap = LinearSegmentedColormap.from_list("g", ["white", "#006400"])
blue_cmap = LinearSegmentedColormap.from_list("b", ["white", "#0000E6"])


def scatter_axes(left, top, right, bottom, xlim, ylim, xticks, frame_col, frame_lw):
    a = px_axes(fig, left, top, right, bottom)
    a.set_xlim(*xlim)
    a.set_ylim(*ylim)
    a.set_xticks(xticks)
    a.set_xticklabels(["%.2f" % v for v in xticks], fontsize=5.7, color="#444444")
    a.set_yticks([70, 75, 80, 85, 90, 95, 100])
    a.set_yticklabels(["70", "75", "80", "85", "90", "95", "100"], fontsize=5.7, color="#444444")
    a.tick_params(length=2, width=0.9, pad=1.5, color="#333333")
    a.grid(color="#BBBBBB", lw=1, ls=(0, (4, 3)), zorder=1)
    a.set_axisbelow(True)
    for s in a.spines.values():
        s.set_color(frame_col)
        s.set_linewidth(frame_lw)
    return a


def hist_axes(left, top, right, bottom, xlim, ylim, xticks, values, spine_col, spine_lw):
    a = px_axes(fig, left, top, right, bottom)
    a.barh(identity_bins, values, height=1, color="#F00000", edgecolor="black", linewidth=0.7, zorder=3)
    a.set_xlim(*xlim)
    a.set_ylim(*ylim)
    a.set_yticks([])
    a.xaxis.tick_top()
    a.set_xticks(xticks)
    a.set_xticklabels([str(v) for v in xticks], fontsize=5.7, color="#444444")
    a.tick_params(axis="x", length=2, width=0.8, pad=1)
    a.spines["right"].set_visible(False)
    a.spines["bottom"].set_visible(False)
    a.spines["left"].set_color(spine_col)
    a.spines["left"].set_linewidth(spine_lw)
    a.spines["top"].set_linewidth(1)
    a.axhline(95, color="black", lw=1.5, ls=(0, (2.2, 2.2)), zorder=5)
    a.plot([0, 0], [70, 100], color="#777777", lw=0.9, zorder=2)
    return a


a1 = scatter_axes(1425.3, 1412.7, 1764.6, 1684.7, (-0.086, 1.877), (68.54, 102.5),
                  [0, 0.25, 0.5, 0.75, 1.0, 1.25, 1.5, 1.75], "#444444", 1.2)
a1.pcolormesh(green_cols, green_rows, np.array(green_cover), shading="gouraud", cmap=green_cmap, vmin=0, vmax=1, zorder=2)
a1.hlines(green_band_y, 0, 1.79, color="white", lw=0.8, ls=(0, (2.5, 1.5)), zorder=3)
a1.vlines(green_gap_x, green_gap_low, green_gap_high, color="white", lw=1.1, ls=(0, (2, 1)), zorder=3)
a1.vlines(green_col_x, green_col_low, green_col_high, color="#006400", lw=0.8, ls=(0, (1.5, 0.8)), zorder=3)
a1.hlines(100, 0, 1.79, color="#006400", lw=2, zorder=3)
a1.vlines(1.15, 78, 88, color="#0B6E0B", lw=1, zorder=3)
a1.scatter(green_x, green_y, s=2.6, color="#0B6E0B", linewidths=0, zorder=3)
a1.axhline(95, color="black", lw=1.3, ls=(0, (2.5, 2)), zorder=4)

a2 = scatter_axes(1426.3, 1752.3, 1764.6, 2023, (-0.0716, 1.543), (68.6, 102.4),
                  [0, 0.25, 0.5, 0.75, 1.0, 1.25, 1.5], "#111111", 1.6)
a2.pcolormesh(blue_cols, blue_rows, np.array(blue_cover), shading="gouraud", cmap=blue_cmap, vmin=0, vmax=1, zorder=2)
a2.vlines(blue_gap_x, blue_gap_low, blue_gap_high, color="white", lw=0.9, ls=(0, (2.5, 1)), zorder=3)
a2.vlines(blue_col_x, blue_col_low, blue_col_high, color="#0000E6", lw=1.6, ls=(0, (1.2, 1)), zorder=3)
a2.scatter(blue_x, blue_y, s=6, color="#0000E6", linewidths=0, zorder=3)
a2.axhline(95, color="black", lw=2, ls=(0, (2.5, 1.8)), zorder=4)

hist_axes(1776, 1411, 1889, 1685, (-3.04, 65.7), (68.5, 102.7), [0, 20, 40, 60], green_hist, "#777777", 1.6)
hist_axes(1783, 1749, 1895.6, 2023, (-2.17, 49.7), (68.6, 102.84), [0, 10, 20, 30, 40], blue_hist, "black", 1)

txt(1827, 1390, "% of aligned reads", size=7.3, weight="bold")
txt(1833, 1724, "% of aligned reads", size=7.3, weight="bold")
txt(1393, 1447, "Identity (%)", size=7, weight="bold", rotation=90)
txt(1393, 1785, "Identity (%)", size=7, weight="bold", rotation=90)
txt(1766, 1709, "Genome size (Mb)", size=7, weight="bold", ha="right")
txt(1766, 2052, "Genome size (Mb)", size=7, weight="bold", ha="right")

fig.savefig("out.png", dpi=100, facecolor="white")
